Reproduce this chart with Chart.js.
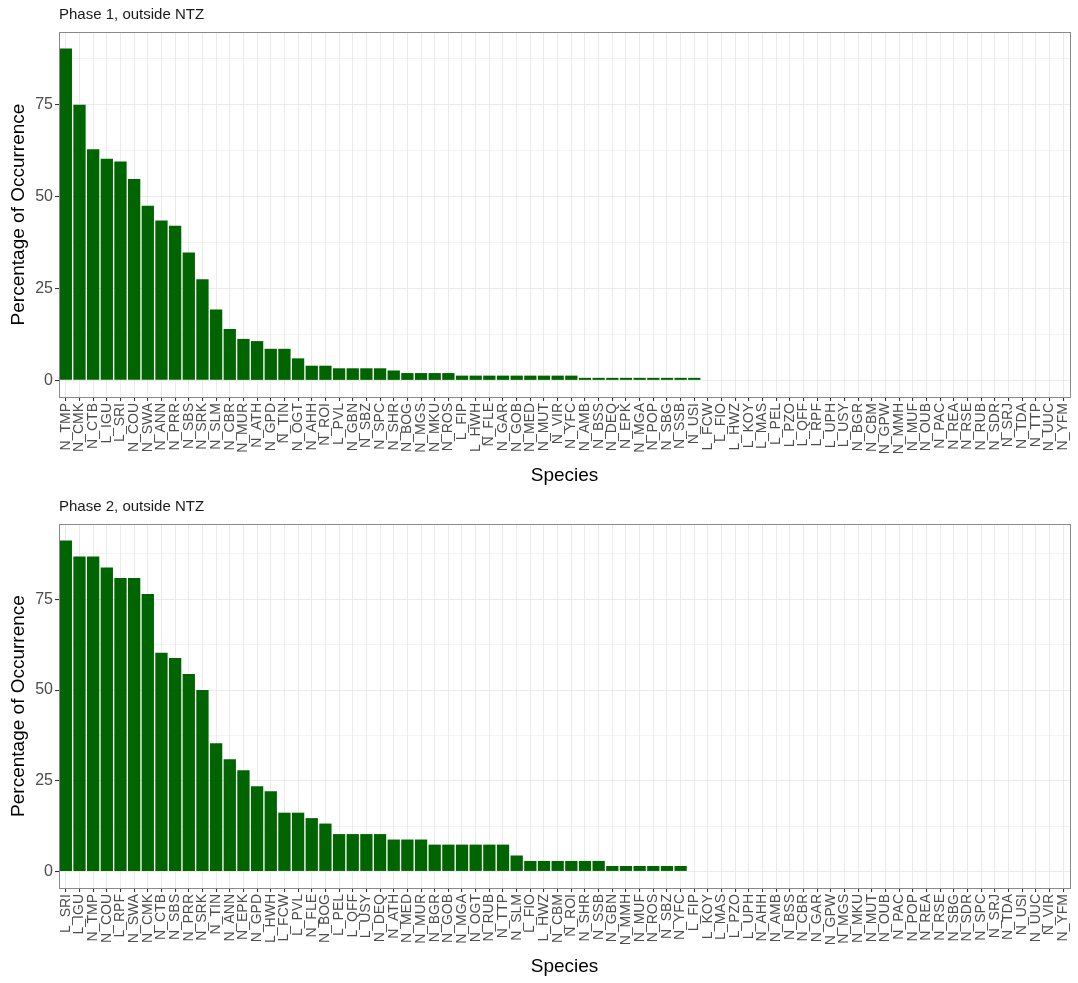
<!DOCTYPE html>
<html>
<head>
<meta charset="utf-8">
<script src="https://cdn.jsdelivr.net/npm/chart.js@4/dist/chart.umd.min.js"></script>
<style>
  body { margin: 0; background: #fff; }
  canvas { display: block; }
</style>
</head>
<body>
<canvas id="phase1Chart" width="1078" height="492"></canvas>
<canvas id="phase2Chart" width="1078" height="491"></canvas>
<script>
// Phase 1, outside NTZ
const speciesPhase1 = [
  'N_TMP', 'N_CMK', 'N_CTB', 'L_IGU', 'L_SRI', 'N_COU', 'N_SWA', 'N_ANN', 'N_PRR', 'N_SBS',
  'N_SRK', 'N_SLM', 'N_CBR', 'N_MUR', 'N_ATH', 'N_GPD', 'N_TIN', 'N_OGT', 'N_AHH', 'N_ROI',
  'L_PVL', 'N_GBN', 'N_SBZ', 'N_SPC', 'N_SHR', 'N_BOG', 'N_MGS', 'N_MKU', 'N_ROS', 'L_FIP',
  'L_HWH', 'N_FLE', 'N_GAR', 'N_GOB', 'N_MED', 'N_MUT', 'N_VIR', 'N_YFC', 'N_AMB', 'N_BSS',
  'N_DEQ', 'N_EPK', 'N_MGA', 'N_POP', 'N_SBG', 'N_SSB', 'N_USI', 'L_FCW', 'L_FIO', 'L_HWZ',
  'L_KOY', 'L_MAS', 'L_PEL', 'L_PZO', 'L_QFF', 'L_RPF', 'L_UPH', 'L_USY', 'N_BGR', 'N_CBM',
  'N_GPW', 'N_MMH', 'N_MUF', 'N_OUB', 'N_PAC', 'N_REA', 'N_RSE', 'N_RUB', 'N_SDR', 'N_SRJ',
  'N_TDA', 'N_TTP', 'N_UUC', 'N_YFM'
];
const occurrencePhase1 = [
  90.3, 75.0, 62.9, 60.3, 59.6, 54.8, 47.5, 43.5, 42.1, 34.8,
  27.5, 19.3, 14.0, 11.3, 10.7, 8.6, 8.6, 6.0, 4.0, 4.0,
  3.3, 3.3, 3.3, 3.3, 2.7, 2.0, 2.0, 2.0, 2.0, 1.3,
  1.3, 1.3, 1.3, 1.3, 1.3, 1.3, 1.3, 1.3, 0.7, 0.7,
  0.7, 0.7, 0.7, 0.7, 0.7, 0.7, 0.7, 0, 0, 0,
  0, 0, 0, 0, 0, 0, 0, 0, 0, 0,
  0, 0, 0, 0, 0, 0, 0, 0, 0, 0,
  0, 0, 0, 0
];

// Phase 2, outside NTZ
const speciesPhase2 = [
  'L_SRI', 'L_IGU', 'N_TMP', 'N_COU', 'L_RPF', 'N_SWA', 'N_CMK', 'N_CTB', 'N_SBS', 'N_PRR',
  'N_SRK', 'N_TIN', 'N_ANN', 'N_EPK', 'N_GPD', 'L_HWH', 'L_FCW', 'L_PVL', 'N_FLE', 'N_BOG',
  'L_PEL', 'L_QFF', 'L_USY', 'N_DEQ', 'N_ATH', 'N_MED', 'N_MUR', 'N_BGR', 'N_GOB', 'N_MGA',
  'N_OGT', 'N_RUB', 'N_TTP', 'N_SLM', 'L_FIO', 'L_HWZ', 'N_CBM', 'N_ROI', 'N_SHR', 'N_SSB',
  'N_GBN', 'N_MMH', 'N_MUF', 'N_ROS', 'N_SBZ', 'N_YFC', 'L_FIP', 'L_KOY', 'L_MAS', 'L_PZO',
  'L_UPH', 'N_AHH', 'N_AMB', 'N_BSS', 'N_CBR', 'N_GAR', 'N_GPW', 'N_MGS', 'N_MKU', 'N_MUT',
  'N_OUB', 'N_PAC', 'N_POP', 'N_REA', 'N_RSE', 'N_SBG', 'N_SDR', 'N_SPC', 'N_SRJ', 'N_TDA',
  'N_USI', 'N_UUC', 'N_VIR', 'N_YFM'
];
const occurrencePhase2 = [
  91.2, 86.8, 86.8, 83.8, 80.9, 80.9, 76.5, 60.3, 58.8, 54.4,
  50.0, 35.3, 30.9, 27.9, 23.5, 22.1, 16.2, 16.2, 14.7, 13.2,
  10.3, 10.3, 10.3, 10.3, 8.8, 8.8, 8.8, 7.4, 7.4, 7.4,
  7.4, 7.4, 7.4, 4.4, 2.9, 2.9, 2.9, 2.9, 2.9, 2.9,
  1.5, 1.5, 1.5, 1.5, 1.5, 1.5, 0, 0, 0, 0,
  0, 0, 0, 0, 0, 0, 0, 0, 0, 0,
  0, 0, 0, 0, 0, 0, 0, 0, 0, 0,
  0, 0, 0, 0
];

const yMajorTicks = [0, 25, 50, 75];
const yMinorTicks = [12.5, 37.5, 62.5, 87.5];

const FONT = '"Liberation Sans", Arial, sans-serif';

// ggplot-like panel border
const panelBorder = {
    id: 'panelBorder',
    afterDraw(chart) {
        const { ctx, chartArea: a } = chart;
        ctx.save();
        ctx.strokeStyle = '#8a8a8a';
        ctx.lineWidth = 1;
        ctx.strokeRect(a.left + 0.5, a.top + 0.5, a.right - a.left, a.bottom - a.top);
        ctx.restore();
    }
};

function makeChart(id, title, labels, values) {
    const top = Math.max(...values);
    const ctx = document.getElementById(id).getContext('2d');
    return new Chart(ctx, {
        type: 'bar',
        data: {
            labels: labels,
            datasets: [{
                data: values,
                backgroundColor: '#006400',
                borderWidth: 0,
                barPercentage: 0.9,
                categoryPercentage: 1.0
            }]
        },
        options: {
            responsive: false,
            animation: false,
            layout: { padding: { left: 0, right: 8, top: 0, bottom: 0 } },
            plugins: {
                legend: { display: false },
                tooltip: { enabled: false },
                title: {
                    display: true,
                    text: title,
                    align: 'start',
                    fullSize: false,
                    color: '#1a1a1a',
                    font: { family: FONT, size: 15, weight: 'normal' },
                    padding: { top: 6, bottom: 8 }
                }
            },
            scales: {
                x: {
                    offset: true,
                    afterFit: (scale) => {
                        scale.height = 95;
                        scale.paddingLeft = 0;
                        scale.paddingRight = 0;
                    },
                    grid: {
                        offset: false,
                        color: '#EBEBEB',
                        lineWidth: 1.07,
                        tickLength: 4,
                        tickColor: '#333333'
                    },
                    border: { display: false },
                    ticks: {
                        autoSkip: false,
                        maxRotation: 90,
                        minRotation: 90,
                        padding: 2,
                        color: '#4D4D4D',
                        font: { family: FONT, size: 14 }
                    },
                    title: {
                        display: true,
                        text: 'Species',
                        color: '#000000',
                        font: { family: FONT, size: 19 },
                        padding: { top: 0, bottom: 4.6 }
                    }
                },
                y: {
                    min: -0.05 * top,
                    max: 1.05 * top,
                    afterFit: (scale) => { scale.width = 59; },
                    afterBuildTicks: (scale) => {
                        scale.ticks = yMajorTicks.concat(yMinorTicks)
                            .sort((a, b) => a - b)
                            .map(v => ({ value: v }));
                    },
                    grid: {
                        color: '#EBEBEB',
                        lineWidth: (c) => yMajorTicks.includes(c.tick.value) ? 1.07 : 0.53,
                        tickLength: 4,
                        tickColor: (c) => yMajorTicks.includes(c.tick.value) ? '#333333' : 'rgba(0,0,0,0)'
                    },
                    border: { display: false },
                    ticks: {
                        padding: 2,
                        color: '#4D4D4D',
                        font: { family: FONT, size: 16 },
                        callback: (v) => yMajorTicks.includes(v) ? v : ''
                    },
                    title: {
                        display: true,
                        text: 'Percentage of Occurrence',
                        color: '#000000',
                        font: { family: FONT, size: 19 },
                        padding: { top: 7, bottom: 0 }
                    }
                }
            }
        },
        plugins: [panelBorder]
    });
}

makeChart('phase1Chart', 'Phase 1, outside NTZ', speciesPhase1, occurrencePhase1);
makeChart('phase2Chart', 'Phase 2, outside NTZ', speciesPhase2, occurrencePhase2);
</script>
</body>
</html>
